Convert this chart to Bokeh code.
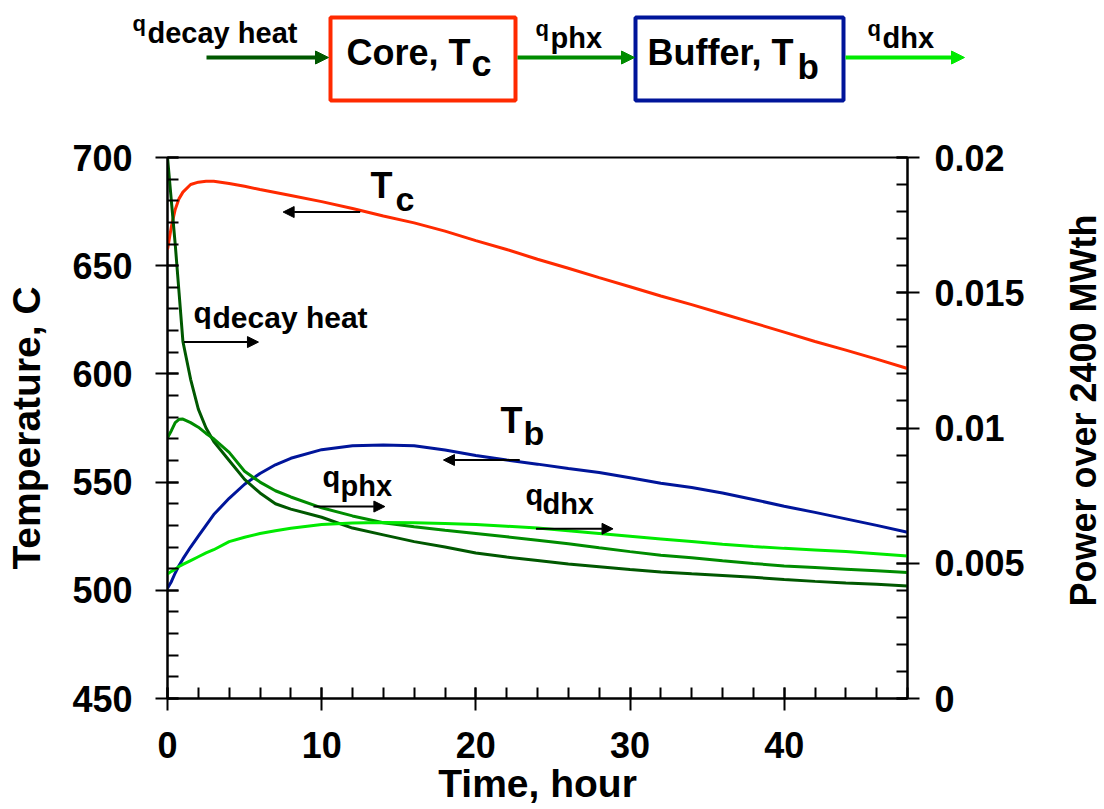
import math
from bokeh.plotting import figure
from bokeh.layouts import row
from bokeh.models import (Range1d, LinearAxis, SingleIntervalTicker, FixedTicker,
                          CustomJSTickFormatter, Label, Arrow, NormalHead)
from bokeh.embed import file_html
from bokeh.resources import INLINE

# ---------------- data ----------------
time_h = [0, 0.25, 0.5, 0.75, 1, 1.5, 2, 2.5, 3, 4, 5, 6, 7, 8, 10, 12, 14, 16, 18,
          20, 22, 24, 26, 28, 30, 32, 34, 36, 38, 40, 42, 44, 46, 48]

t_core = [657.5, 668, 676, 681, 684, 687.5, 688.6, 689, 689, 688, 686.7, 685.2, 683.8,
          682.4, 679.6, 676.4, 673, 669.8, 666, 661.6, 657.5, 653, 648.8, 644.5, 640.3,
          636, 632, 627.8, 623.6, 619.3, 615, 611, 606.8, 602.5]

t_buffer = [501, 504, 508, 511.5, 514.5, 520, 525, 530, 535, 542.5, 549, 554, 558, 561,
            565, 566.8, 567.2, 566.8, 564.8, 562.3, 560.2, 558.3, 556.3, 554.4, 552,
            549.5, 547.5, 545, 542, 538.8, 536, 533, 530, 526.8]

q_decay = [0.0200, 0.0184, 0.0168, 0.0150, 0.0132, 0.0118, 0.0107, 0.0100, 0.0095,
           0.0088, 0.0081, 0.0076, 0.0072, 0.0070, 0.0067, 0.0063, 0.00605, 0.0058,
           0.0056, 0.00538, 0.00523, 0.0051, 0.00497, 0.00487, 0.00477, 0.00468,
           0.00461, 0.00455, 0.00448, 0.0044, 0.00433, 0.00427, 0.00422, 0.00416]

q_phx = [0.00964, 0.0099, 0.0102, 0.01032, 0.01033, 0.0102, 0.01003, 0.0098, 0.0096,
         0.0091, 0.0084, 0.0080, 0.00768, 0.00745, 0.00705, 0.00675, 0.0065, 0.00635,
         0.00622, 0.0061, 0.00598, 0.00585, 0.00572, 0.00557, 0.00543, 0.0053, 0.0052,
         0.00509, 0.00499, 0.0049, 0.00484, 0.00478, 0.00472, 0.00466]

q_dhx = [0.0046, 0.0047, 0.00478, 0.00488, 0.00496, 0.0051, 0.00524, 0.00538, 0.0055,
         0.0058, 0.00596, 0.0061, 0.0062, 0.00629, 0.00643, 0.00649, 0.00651, 0.0065,
         0.00647, 0.00643, 0.00637, 0.0063, 0.0062, 0.0061, 0.006, 0.0059, 0.0058,
         0.0057, 0.00562, 0.00555, 0.00549, 0.00543, 0.00535, 0.00527]

power_ticks = [0, 0.005, 0.01, 0.015, 0.02]
power_minor = [i * 0.001 for i in range(21)]

# ---------------- style ----------------
FONT = "Liberation Sans"
C_CORE = "#ff2a00"
C_BUF = "#00159a"
C_DECAY = "#005800"
C_PHX = "#008c00"
C_DHX = "#00ea00"
MID = 0.35  # distance from baseline to text middle, in em


def text_label(txt, x, y, size, **kw):
    return Label(x=x, y=y, text=txt, text_font=FONT, text_font_style="bold",
                 text_font_size=f"{size}px", text_baseline="middle",
                 text_align="left", text_color="black", **kw)


# ---------------- top schematic (page pixel coordinates) ----------------
d = figure(width=1104, height=128, x_range=Range1d(0, 1104), y_range=Range1d(128, 0),
           output_backend="svg", toolbar_location=None, min_border=0,
           x_axis_type=None, y_axis_type=None, outline_line_color=None)

BOXES = [  # (left, right, top, bottom, colour)
    (330, 515, 17, 100, C_CORE),
    (635, 843, 17, 100, C_BUF),
]
for l, r, t, b, c in BOXES:
    d.quad(left=[l], right=[r], top=[t], bottom=[b], fill_color=None,
           line_color=c, line_width=4)

FLOWS = [  # (x0, x1, y, colour)
    (206, 328, 57, C_DECAY),
    (517, 634, 57, C_PHX),
    (845, 964, 57, C_DHX),
]
for x0, x1, y, c in FLOWS:
    d.add_layout(Arrow(x_start=x0, y_start=y, x_end=x1, y_end=y, line_color=c,
                       line_width=4,
                       end=NormalHead(size=13, fill_color=c, line_color=c, line_width=1)))

DIAG_TEXT = [  # (text, x, baseline y, size)
    ("q", 132, 31, 22), ("decay heat", 147, 43, 29),
    ("Core, T", 346, 65, 36), ("c", 471, 76, 36),
    ("q", 535, 36, 22), ("phx", 550, 48, 29),
    ("Buffer, T", 647, 65, 36), ("b", 797, 78, 35),
    ("q", 867, 36, 22), ("dhx", 882, 48, 29),
]
for txt, x, y, s in DIAG_TEXT:
    d.add_layout(text_label(txt, x, y - MID * s, s))

# ---------------- main plot ----------------
p = figure(frame_width=740, frame_height=541, x_range=Range1d(0, 48),
           y_range=Range1d(450, 700), output_backend="svg", toolbar_location=None,
           min_border_left=167, min_border_right=125, min_border_top=29,
           min_border_bottom=110)
p.extra_y_ranges = {"power": Range1d(0, 0.02)}
p.grid.visible = False
p.outline_line_color = "black"
p.outline_line_width = 2

p.line(time_h, t_core, line_color=C_CORE, line_width=3)
p.line(time_h, t_buffer, line_color=C_BUF, line_width=3)
p.line(time_h, q_decay, line_color=C_DECAY, line_width=3, y_range_name="power")
p.line(time_h, q_phx, line_color=C_PHX, line_width=3, y_range_name="power")
p.line(time_h, q_dhx, line_color=C_DHX, line_width=3, y_range_name="power")

right = LinearAxis(y_range_name="power",
                   ticker=FixedTicker(ticks=power_ticks, minor_ticks=power_minor),
                   formatter=CustomJSTickFormatter(
                       code="return (Math.round(tick*1000)/1000).toString();"))
p.add_layout(right, "right")

p.xaxis.ticker = SingleIntervalTicker(interval=10, num_minor_ticks=5)
p.yaxis[0].ticker = SingleIntervalTicker(interval=50, num_minor_ticks=5)

for ax in p.axis:
    ax.axis_line_width = 2
    ax.axis_line_color = "black"
    ax.major_tick_line_width = 2
    ax.minor_tick_line_width = 2
    ax.major_tick_line_color = "black"
    ax.minor_tick_line_color = "black"
    ax.major_tick_in = 11
    ax.major_tick_out = 12
    ax.minor_tick_in = 11
    ax.minor_tick_out = 0
    ax.major_label_text_font = FONT
    ax.major_label_text_font_style = "bold"
    ax.major_label_text_font_size = "36px"
    ax.major_label_text_color = "black"
    ax.axis_label_text_font = FONT
    ax.axis_label_text_font_style = "bold"
    ax.axis_label_text_color = "black"

p.xaxis.axis_label = "Time, hour"
p.xaxis.axis_label_text_font_size = "39px"
p.xaxis.major_label_standoff = 21
p.xaxis.axis_label_standoff = 1

left = p.yaxis[0]
left.axis_label = "Temperature, C"
left.axis_label_text_font_size = "39px"
left.major_label_standoff = 23
left.axis_label_standoff = 21

right.major_label_standoff = 15

PX_PER_DEG = 541 / 250.0
PLOT_TEXT = [  # (text, x in hours, baseline in deg C, size)
    ("T", 13.17, 681.1, 36), ("c", 14.79, 675.5, 34),
    ("q", 1.69, 623.3, 30), ("decay heat", 2.92, 621.4, 30),
    ("T", 21.6, 572.5, 36), ("b", 23.09, 567.0, 34),
    ("q", 10.05, 547.5, 29), ("phx", 11.22, 543.4, 29),
    ("q", 23.22, 539.2, 29), ("dhx", 24.32, 535.0, 29),
]
for txt, x, y, s in PLOT_TEXT:
    p.add_layout(text_label(txt, x, y + MID * s / PX_PER_DEG, s))

POINTERS = [  # (x_start, x_end, y)
    (12.5, 7.5, 674.8),
    (1.06, 5.9, 614.7),
    (22.85, 17.9, 560.2),
    (9.47, 14.1, 538.7),
    (23.9, 28.9, 528.4),
]
for xs, xe, y in POINTERS:
    p.add_layout(Arrow(x_start=xs, y_start=y, x_end=xe, y_end=y, line_color="black",
                       line_width=2,
                       end=NormalHead(size=11, fill_color="black", line_color="black",
                                      line_width=1)))

# ---------------- right-hand axis title strip (page pixel coordinates) ----------------
r = figure(frame_width=72, frame_height=541, x_range=Range1d(1032, 1104),
           y_range=Range1d(698, 157), output_backend="svg", toolbar_location=None,
           min_border_left=0, min_border_right=0, min_border_top=29,
           min_border_bottom=110, x_axis_type=None, y_axis_type=None,
           outline_line_color=None)
r.add_layout(Label(x=1083, y=410, text="Power over 2400 MWth", angle=math.pi / 2,
                   text_font=FONT, text_font_style="bold", text_font_size="36px",
                   text_align="center", text_baseline="middle", text_color="black"))

open("out.html", "w").write(file_html([d, row(p, r, spacing=0)], INLINE))
